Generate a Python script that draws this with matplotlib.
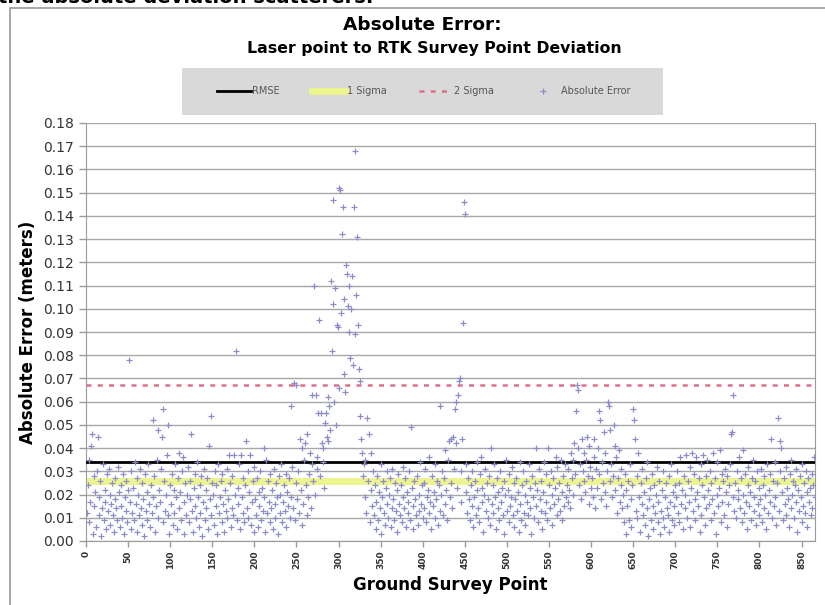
import numpy as np
import matplotlib.pyplot as plt
from matplotlib.lines import Line2D
from matplotlib.patches import Rectangle

# absolute error per ground survey point, in millimetres
err_000 = [12, 24, 8, 35, 17, 41, 46, 3, 28, 15,
           21, 6, 30, 45, 11, 19, 26, 2, 14, 33,
           9, 22, 17, 5, 29, 13, 31, 20, 7, 16,
           25, 11, 4, 18, 27, 14, 9, 32, 21, 6,
           15, 24, 10, 29, 3, 19, 13, 26, 8, 22,
           78, 17, 30, 5, 12, 23, 9, 34, 16, 27,
           4, 20, 11, 31, 14, 7, 25, 18, 2, 29,
           13, 21, 9, 33, 16, 6, 24, 12, 52, 19,
           28, 4, 15, 35, 48, 10, 22, 17, 31, 45,
           8, 57, 26, 13, 20, 37, 50, 11, 3, 24]
err_100 = [16, 29, 7, 22, 12, 33, 19, 5, 27, 38,
           14, 21, 9, 30, 36, 17, 3, 25, 11, 20,
           32, 8, 18, 26, 46, 13, 4, 23, 15, 29,
           10, 34, 19, 6, 24, 12, 28, 2, 17, 31,
           9, 22, 14, 27, 5, 41, 18, 54, 11, 25,
           20, 7, 30, 15, 24, 3, 33, 12, 19, 26,
           8, 29, 16, 4, 22, 13, 31, 10, 18, 37,
           25, 6, 14, 28, 11, 37, 20, 82, 9, 23,
           16, 33, 5, 37, 19, 27, 12, 8, 24, 43,
           14, 30, 10, 21, 37, 7, 17, 26, 4, 32]
err_200 = [18, 11, 27, 6, 21, 15, 30, 9, 23, 13,
           40, 19, 4, 35, 12, 26, 17, 8, 29, 14,
           22, 5, 31, 16, 10, 25, 19, 3, 28, 12,
           20, 33, 8, 17, 24, 13, 29, 6, 21, 15,
           27, 10, 58, 19, 32, 14, 68, 9, 25, 67,
           18, 30, 12, 44, 22, 7, 40, 16, 35, 42,
           24, 11, 46, 19, 29, 38, 14, 33, 63, 26,
           110, 20, 63, 36, 31, 55, 95, 28, 55, 42,
           34, 40, 23, 51, 55, 45, 62, 43, 58, 48,
           112, 82, 147, 102, 60, 109, 50, 93, 92, 66]
err_300 = [152, 151, 98, 132, 144, 72, 104, 64, 119, 115,
           101, 110, 90, 79, 100, 114, 76, 144, 168, 89,
           106, 131, 93, 74, 69, 54, 44, 38, 28, 33,
           19, 35, 12, 53, 26, 46, 8, 38, 22, 15,
           30, 11, 24, 5, 17, 28, 9, 21, 14, 33,
           3, 19, 26, 12, 7, 23, 16, 30, 10, 20,
           27, 6, 14, 31, 18, 9, 25, 13, 22, 4,
           29, 16, 11, 24, 8, 19, 32, 14, 27, 6,
           21, 12, 17, 30, 9, 49, 23, 15, 5, 26,
           18, 11, 28, 7, 20, 13, 34, 16, 24, 10]
err_400 = [25, 14, 31, 8, 19, 22, 12, 36, 17, 5,
           28, 15, 21, 10, 33, 18, 26, 7, 24, 13,
           58, 20, 30, 11, 27, 16, 39, 22, 9, 35,
           43, 19, 44, 25, 14, 45, 31, 57, 60, 42,
           23, 63, 69, 70, 30, 17, 44, 94, 146, 141,
           21, 33, 12, 27, 18, 9, 24, 15, 30, 6,
           19, 26, 11, 22, 34, 14, 8, 29, 36, 17,
           23, 4, 20, 31, 13, 25, 10, 18, 28, 7,
           40, 16, 24, 12, 33, 19, 5, 27, 14, 21,
           9, 30, 17, 23, 11, 26, 3, 20, 35, 13]
err_500 = [22, 8, 29, 15, 19, 32, 11, 25, 6, 18,
           27, 13, 21, 4, 34, 16, 9, 24, 30, 12,
           20, 7, 26, 17, 11, 33, 14, 23, 3, 28,
           19, 10, 25, 40, 15, 22, 8, 31, 18, 13,
           26, 5, 21, 34, 12, 29, 17, 9, 40, 24,
           14, 30, 20, 7, 27, 16, 23, 36, 11, 32,
           18, 25, 13, 35, 21, 9, 28, 15, 33, 19,
           24, 17, 31, 22, 14, 38, 27, 20, 35, 42,
           29, 56, 67, 65, 40, 24, 33, 18, 44, 30,
           26, 38, 21, 35, 45, 28, 16, 41, 32, 23]
err_600 = [27, 19, 44, 36, 14, 31, 23, 40, 56, 29,
           52, 18, 34, 25, 47, 21, 38, 15, 30, 60,
           58, 26, 48, 33, 19, 28, 50, 41, 22, 36,
           12, 27, 39, 17, 24, 31, 14, 20, 8, 29,
           3, 22, 15, 26, 9, 33, 18, 6, 24, 57,
           52, 44, 13, 28, 10, 38, 19, 4, 25, 16,
           31, 11, 21, 7, 27, 14, 34, 2, 18, 23,
           9, 29, 15, 5, 24, 12, 20, 32, 8, 17,
           26, 3, 13, 22, 10, 30, 6, 19, 25, 14,
           11, 28, 4, 17, 33, 9, 21, 15, 7, 24]
err_700 = [19, 30, 12, 25, 8, 36, 16, 22, 5, 28,
           14, 20, 37, 10, 26, 17, 32, 6, 23, 38,
           13, 29, 18, 9, 36, 21, 15, 27, 4, 33,
           11, 24, 37, 19, 7, 28, 14, 35, 22, 16,
           30, 9, 25, 18, 38, 12, 27, 3, 20, 34,
           15, 23, 39, 8, 29, 17, 26, 11, 31, 21,
           6, 28, 16, 24, 33, 46, 47, 19, 63, 13,
           25, 10, 30, 18, 22, 36, 14, 27, 8, 39,
           20, 12, 29, 17, 5, 24, 32, 15, 21, 9,
           27, 35, 13, 19, 26, 7, 30, 16, 23, 11]
err_800 = [18, 31, 8, 24, 14, 28, 20, 5, 33, 12,
           22, 17, 29, 44, 10, 26, 15, 34, 19, 7,
           25, 53, 13, 30, 43, 40, 21, 9, 27, 16,
           32, 11, 23, 18, 6, 29, 14, 35, 20, 26,
           10, 24, 17, 31, 4, 22, 13, 28, 19, 8,
           33, 15, 25, 12, 30, 21, 6, 27, 17, 23,
           11, 29, 14, 24, 36, 19]

rmse = 0.034
sigma1 = 0.0258
sigma2 = 0.067

x_ticks = list(range(0, 851, 50))
y_ticks = [i / 100 for i in range(0, 19)]

errors = np.array(err_000 + err_100 + err_200 + err_300 + err_400 +
                  err_500 + err_600 + err_700 + err_800) / 1000.0
points = np.arange(1, len(errors) + 1)

W, H = 825, 605
pt_color = "#8c8cca"
fig = plt.figure(figsize=(W / 100, H / 100), dpi=100)

# chart area border (cut off at right / bottom like the screenshot)
fig.patches.append(Rectangle((10 / W, -0.05), 1.0, 1 - 8 / H + 0.05,
                             transform=fig.transFigure, fill=False,
                             edgecolor="#9a9a9a", linewidth=1.2))

# line of document text above the chart, mostly cropped in the screenshot
fig.text(-2 / W, 1 - 3 / H, "the absolute deviation scatterers:",
         fontsize=14, fontweight="bold", va="baseline", ha="left")

ax = fig.add_axes([86 / W, 1 - 541 / H, (815 - 86) / W, (541 - 123) / H])

ax.plot(points, errors, linestyle="none", marker="+", markersize=4,
        markeredgewidth=0.9, color=pt_color, zorder=4, label="Absolute Error")
ax.axhline(rmse, color="black", linewidth=2, zorder=3, label="RMSE")
ax.axhline(sigma1, color="#ecf48e", linewidth=5, zorder=2, label="1 Sigma")
ax.axhline(sigma2, color="#e0708a", linewidth=1.8, linestyle=(0, (2, 2.5)),
           zorder=3, label="2 Sigma")

ax.set_xlim(0, 866)
ax.set_ylim(0, 0.18)
ax.set_yticks(y_ticks)
ax.set_yticklabels([f"{v:.2f}" for v in y_ticks], fontsize=10, color="#333333")
ax.set_xticks(x_ticks)
ax.set_xticklabels([str(v) for v in x_ticks], rotation=90, fontsize=6.5,
                   fontweight="bold", color="#333333")
ax.tick_params(axis="y", length=5, width=1, color="#9a9a9a", pad=4)
ax.tick_params(axis="x", length=4, width=1, color="#9a9a9a", pad=3)

ax.grid(axis="y", color="#a8a8a8", linewidth=1)
ax.set_axisbelow(True)
for side in ["left", "right", "bottom"]:
    ax.spines[side].set_color("#9a9a9a")
ax.spines["top"].set_visible(False)

ax.set_xlabel("Ground Survey Point", fontsize=12, fontweight="bold", labelpad=5)
ax.set_ylabel("Absolute Error (meters)", fontsize=12, fontweight="bold", labelpad=4)

fig.text(422 / W, 1 - 25 / H, "Absolute Error:", fontsize=13.3,
         fontweight="bold", ha="center", va="center")
fig.text(434 / W, 1 - 49 / H, "Laser point to RTK Survey Point Deviation",
         fontsize=11.3, fontweight="bold", ha="center", va="center")

# legend: grey box with the four series
fig.patches.append(Rectangle((182 / W, 1 - 115 / H), 481 / W, 47 / H,
                             transform=fig.transFigure, facecolor="#d9d9d9",
                             edgecolor="none"))
handles = [
    Line2D([], [], color="black", linewidth=2),
    Line2D([], [], color="#ecf48e", linewidth=5),
    Line2D([], [], color="#e0708a", linewidth=1.8, linestyle=(0, (2, 2.5))),
    Line2D([], [], linestyle="none", marker="+", markersize=4,
           markeredgewidth=0.9, color=pt_color),
]
fig.legend(handles, ["RMSE", "1 Sigma", "2 Sigma", "Absolute Error"],
           loc="center", bbox_to_anchor=(424 / W, 1 - 91 / H), ncol=4,
           frameon=False, fontsize=7, labelcolor="#555555",
           handlelength=3.4, handletextpad=0.2, columnspacing=3.3)

fig.savefig("out.png", dpi=100)
